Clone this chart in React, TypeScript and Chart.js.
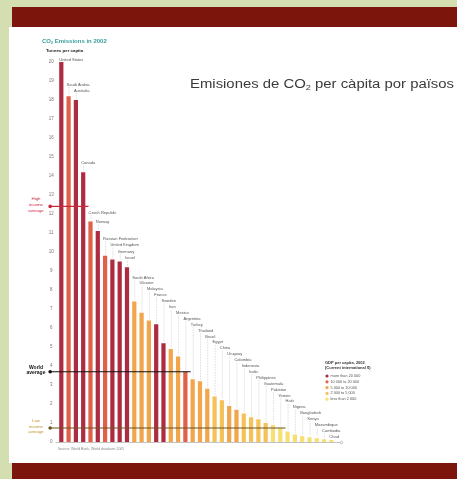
import React, { useEffect, useRef } from "react";
import { Chart, registerables } from "chart.js";

Chart.register(...registerables);

const countries = [
  "United States", "Saudi Arabia", "Australia", "Canada", "Czech Republic", "Norway",
  "Russian Federation", "United Kingdom", "Germany", "Israel", "South Africa", "Ukraine",
  "Malaysia", "France", "Sweden", "Iran", "Mexico", "Argentina", "Turkey", "Thailand",
  "Brazil", "Egypt", "China", "Uruguay", "Colombia", "Indonesia", "India", "Philippines",
  "Guatemala", "Pakistan", "Yemen", "Haiti", "Nigeria", "Bangladesh", "Kenya",
  "Mozambique", "Cambodia", "Chad",
];

const emissions = [
  20.0, 18.2, 18.0, 14.2, 11.6, 11.1, 9.8, 9.6, 9.5, 9.2,
  7.4, 6.8, 6.4, 6.2, 5.2, 4.9, 4.5, 3.7, 3.3, 3.2,
  2.8, 2.4, 2.2, 1.9, 1.7, 1.5, 1.3, 1.2, 1.0, 0.9,
  0.75, 0.55, 0.4, 0.3, 0.25, 0.2, 0.15, 0.1,
];

// GDP group index per country (0 = richest)
const incomeGroup = [
  0, 1, 0, 0, 1, 0, 1, 0, 0, 0,
  2, 2, 2, 0, 0, 2, 2, 1, 2, 2,
  2, 3, 3, 2, 2, 3, 3, 3, 3, 4,
  4, 4, 4, 4, 4, 4, 4, 4,
];

const groupLabels = [
  "more than 20 000",
  "10 000 to 20 000",
  "5 000 to 10 000",
  "2 000 to 5 000",
  "less than 2 000",
];
const groupColors = ["#ae2c42", "#e0604a", "#f1a64c", "#f5c25a", "#f7df74"];

const averageNames = [["High", "income", "average"], ["World", "average"], ["Low", "income", "average"]];
const averageValues = [12.4, 3.7, 0.74];
const averageLineColors = ["#c8283c", "#111111", "#6a5420"];
const averageTextColors = ["#c8283c", "#111111", "#c09030"];

const yMin = 0;
const yMax = 20;
const yStep = 1;

const FONT = "'Liberation Sans', Arial, sans-serif";

function drawCO2(ctx: CanvasRenderingContext2D, pre: string, post: string, x: number, y: number, size: number, weight: string) {
  ctx.font = `${weight} ${size}px ${FONT}`;
  ctx.fillText(pre, x, y);
  let cx = x + ctx.measureText(pre).width;
  ctx.font = `${weight} ${size * 0.62}px ${FONT}`;
  ctx.fillText("2", cx, y + size * 0.22);
  cx += ctx.measureText("2").width;
  ctx.font = `${weight} ${size}px ${FONT}`;
  ctx.fillText(post, cx, y);
  return cx + ctx.measureText(post).width - x;
}

const overlayPlugin = {
  id: "overlay",
  afterDatasetsDraw(chart: any) {
    const { ctx, chartArea } = chart;
    const yS = chart.scales.y;
    const meta = chart.getDatasetMeta(0);
    const xs: number[] = meta.data.map((b: any) => b.x);
    const tops: number[] = meta.data.map((b: any) => b.y);
    const n = xs.length;
    const base = yS.getPixelForValue(0);
    ctx.save();

    // baseline
    ctx.strokeStyle = "#9a9a9a";
    ctx.lineWidth = 0.6;
    ctx.beginPath();
    ctx.moveTo(chartArea.left - 2, base + 0.5);
    ctx.lineTo(chartArea.right + 5, base + 0.5);
    ctx.stroke();
    ctx.beginPath();
    ctx.arc(chartArea.right + 6.5, base + 0.5, 1.3, 0, Math.PI * 2);
    ctx.stroke();

    // country labels (staircase) with dotted leaders
    const labelY: number[] = new Array(n);
    const stairStart = 10;
    const stairTop = tops[stairStart] - 24;
    for (let i = n - 1; i >= 0; i--) {
      if (i >= stairStart) labelY[i] = stairTop + 5.9 * (i - stairStart);
      else labelY[i] = Math.min(tops[i] - (i === 0 ? 2 : 9), labelY[i + 1] - 6.5);
    }
    ctx.lineWidth = 0.5;
    ctx.strokeStyle = "#b0b0b0";
    ctx.setLineDash([0.8, 0.8]);
    for (let i = 0; i < n; i++) {
      if (tops[i] - labelY[i] > 4) {
        ctx.beginPath();
        ctx.moveTo(xs[i] + 0.5, labelY[i] + 2.5);
        ctx.lineTo(xs[i] + 0.5, tops[i] - 1);
        ctx.stroke();
      }
    }
    ctx.setLineDash([]);
    ctx.font = `4px ${FONT}`;
    ctx.textBaseline = "middle";
    ctx.textAlign = "left";
    ctx.fillStyle = "#555";
    for (let i = 0; i < n; i++) {
      ctx.fillText(countries[i], xs[i] - 2, labelY[i]);
    }

    // average lines
    averageValues.forEach((v, k) => {
      const py = yS.getPixelForValue(v);
      const idx = emissions.findIndex((e) => e < v);
      const xEnd = idx >= 0 ? xs[idx] - 2 : chartArea.right;
      const xStart = chartArea.left - 7.5;
      ctx.strokeStyle = averageLineColors[k];
      ctx.fillStyle = averageLineColors[k];
      ctx.lineWidth = 1.1;
      ctx.beginPath();
      ctx.moveTo(xStart, py);
      ctx.lineTo(xEnd, py);
      ctx.stroke();
      ctx.beginPath();
      ctx.arc(xStart, py, 1.8, 0, Math.PI * 2);
      ctx.fill();
      const lines = averageNames[k];
      const lh = 5.8;
      const cy = py - 1.5 - ((lines.length - 1) / 2) * lh;
      ctx.fillStyle = averageTextColors[k];
      ctx.textAlign = "center";
      ctx.font = k === 1 ? `bold 5px ${FONT}` : `4.3px ${FONT}`;
      lines.forEach((t, j) => ctx.fillText(t, 36, cy + j * lh));
    });

    // legend
    ctx.textAlign = "left";
    ctx.fillStyle = "#333";
    ctx.font = `bold 4px ${FONT}`;
    ctx.fillText("GDP per capita, 2002", 325, 363);
    ctx.fillText("(Current international $)", 325, 368);
    ctx.font = `3.8px ${FONT}`;
    groupLabels.forEach((t, k) => {
      const yy = 376 + 5.8 * k;
      ctx.fillStyle = groupColors[k];
      ctx.beginPath();
      ctx.arc(327, yy, 1.6, 0, Math.PI * 2);
      ctx.fill();
      ctx.fillStyle = "#555";
      ctx.fillText(t, 330.5, yy);
    });

    // small titles
    ctx.textBaseline = "alphabetic";
    ctx.fillStyle = "#3a9e9c";
    drawCO2(ctx, "CO", " Emissions in 2002", 42, 43, 6, "bold");
    ctx.fillStyle = "#222";
    ctx.font = `bold 4.4px ${FONT}`;
    ctx.fillText("Tonnes per capita", 46, 52);

    // source
    ctx.fillStyle = "#888";
    ctx.font = `3.5px ${FONT}`;
    ctx.fillText("Source: World Bank, World database 2005", 58, 449.5);

    // big title, fitted to width
    ctx.save();
    ctx.fillStyle = "#3a3a3a";
    const probe = document.createElement("canvas").getContext("2d")!;
    const w = drawCO2(probe, "Emisiones de CO", " per càpita por països", 0, 0, 12, "normal");
    const sx = 264 / w;
    ctx.translate(190, 87.5);
    ctx.scale(sx, 1);
    drawCO2(ctx, "Emisiones de CO", " per càpita por països", 0, 0, 12, "normal");
    ctx.restore();

    ctx.restore();
  },
};

export default function App() {
  const ref = useRef<HTMLCanvasElement>(null);
  useEffect(() => {
    const chart = new Chart(ref.current!, {
      type: "bar",
      data: {
        labels: countries,
        datasets: [
          {
            data: emissions,
            backgroundColor: incomeGroup.map((g) => groupColors[g]),
            barPercentage: 0.58,
            categoryPercentage: 1,
            borderWidth: 0,
          },
        ],
      },
      options: {
        animation: false,
        responsive: false,
        layout: { padding: { left: 27.65, right: 122, top: 62, bottom: 37 } },
        plugins: {
          legend: { display: false },
          tooltip: { enabled: false },
          title: { display: false },
        },
        scales: {
          x: { display: false },
          y: {
            min: yMin,
            max: yMax,
            afterFit: (s: any) => {
              s.width = 30;
            },
            grid: { display: false, drawTicks: false },
            border: { display: false },
            ticks: {
              stepSize: yStep,
              padding: 4,
              crossAlign: "center",
              autoSkip: false,
              color: "#777",
              font: { size: 4.5, family: FONT },
            },
          },
        },
      } as any,
      plugins: [overlayPlugin],
    });
    return () => chart.destroy();
  }, []);
  return (
    <div style={{ position: "fixed", left: 0, top: 0, width: 457, height: 479, background: "#d4dfb1", overflow: "hidden" }}>
      <div style={{ position: "absolute", left: 9, top: 27, width: 448, height: 436, background: "#ffffff" }} />
      <div style={{ position: "absolute", left: 12, top: 7, width: 445, height: 20, background: "#7c150c" }} />
      <div style={{ position: "absolute", left: 12, top: 463, width: 445, height: 16, background: "#7c150c" }} />
      <canvas ref={ref} width={457} height={479} style={{ position: "absolute", left: 0, top: 0, width: 457, height: 479 }} />
    </div>
  );
}
